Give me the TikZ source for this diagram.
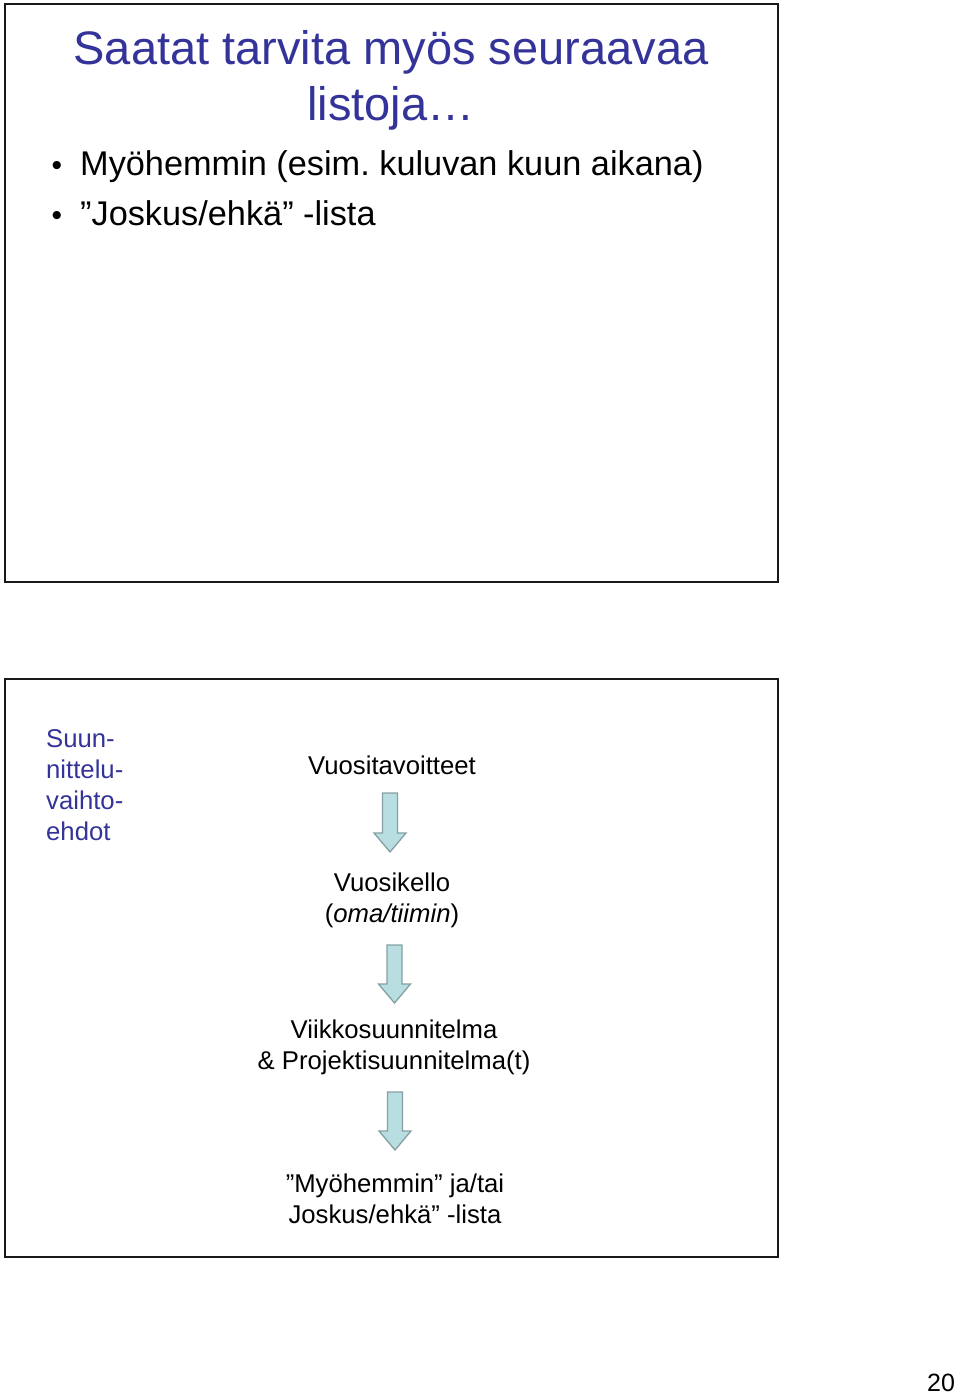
\documentclass[tikz,border=0pt]{standalone}
\usepackage{fontspec}
\setmainfont{Liberation Sans}
\usetikzlibrary{calc}
\frenchspacing
\definecolor{slideblue}{RGB}{51,51,153}
\definecolor{arrowfill}{RGB}{184,222,225}
\definecolor{arrowline}{RGB}{132,160,162}
\definecolor{frameline}{RGB}{25,25,25}

\tikzset{
  fatarrow/.style = {draw=arrowline, fill=arrowfill, line width=1.3pt,
    to path = {let \p1=(\tikztostart), \p2=(\tikztotarget) in
      (\x1-7.5pt,\y1) -- (\x1+7.5pt,\y1) -- (\x1+7.5pt,\y2+19pt) -- (\x1+16pt,\y2+19pt)
      -- (\x1,\y2) -- (\x1-16pt,\y2+19pt) -- (\x1-7.5pt,\y2+19pt) -- cycle}},
}

\begin{document}
\begin{tikzpicture}[x=1pt, y=-1pt,
  slidebox/.style = {draw=frameline, line width=2pt},
  title/.style = {anchor=base, align=center, inner sep=0pt, text=slideblue,
    font=\fontsize{47}{56}\selectfont},
  item/.style = {anchor=base west, inner sep=0pt, font=\fontsize{34.3}{50}\selectfont},
  dot/.style = {anchor=base, inner sep=0pt, font=\fontsize{30}{50}\selectfont},
  side/.style = {anchor=base west, align=left, inner sep=0pt, text=slideblue,
    font=\fontsize{25.7}{31}\selectfont},
  level/.style = {anchor=base, align=center, inner sep=0pt,
    font=\fontsize{25.7}{31}\selectfont}]
  \useasboundingbox (0,0) rectangle (960,1394);

  % upper slide (multi-line nodes sit on their last baseline)
  \draw[slidebox] (5,4) rectangle (778,582);
  \node[title] (title) at (391,121) {Saatat tarvita myös seuraavaa\\listoja…};
  \node[dot] (d1) at (57,175) {•};
  \node[item] (later) at (80,175) {Myöhemmin (esim. kuluvan kuun aikana)};
  \node[dot] (d2) at (57,225) {•};
  \node[item] (maybe) at (80,225) {”Joskus/ehkä” -lista};

  % lower slide
  \draw[slidebox] (5,679) rectangle (778,1257);
  \node[side] (options) at (46,840) {Suun-\\nittelu-\\vaihto-\\ehdot};
  \node[level] (goals) at (392,774) {Vuositavoitteet};
  \node[level] (clock) at (392,922) {Vuosikello\\(\textit{oma/tiimin})};
  \node[level] (week) at (394,1069) {Viikkosuunnitelma\\\& Projektisuunnitelma(t)};
  \node[level] (lists) at (395,1223) {”Myöhemmin” ja/tai\\Joskus/ehkä” -lista};

  \coordinate (a1s) at (390,793);   \coordinate (a1e) at (390,852);
  \coordinate (a2s) at (394.5,945); \coordinate (a2e) at (394.5,1003);
  \coordinate (a3s) at (395,1092);  \coordinate (a3e) at (395,1150);
  \draw[fatarrow] (a1s) to (a1e);
  \draw[fatarrow] (a2s) to (a2e);
  \draw[fatarrow] (a3s) to (a3e);

  \node[anchor=base, inner sep=0pt, font=\fontsize{25}{30}\selectfont] (page) at (941,1391) {20};
\end{tikzpicture}
\end{document}
